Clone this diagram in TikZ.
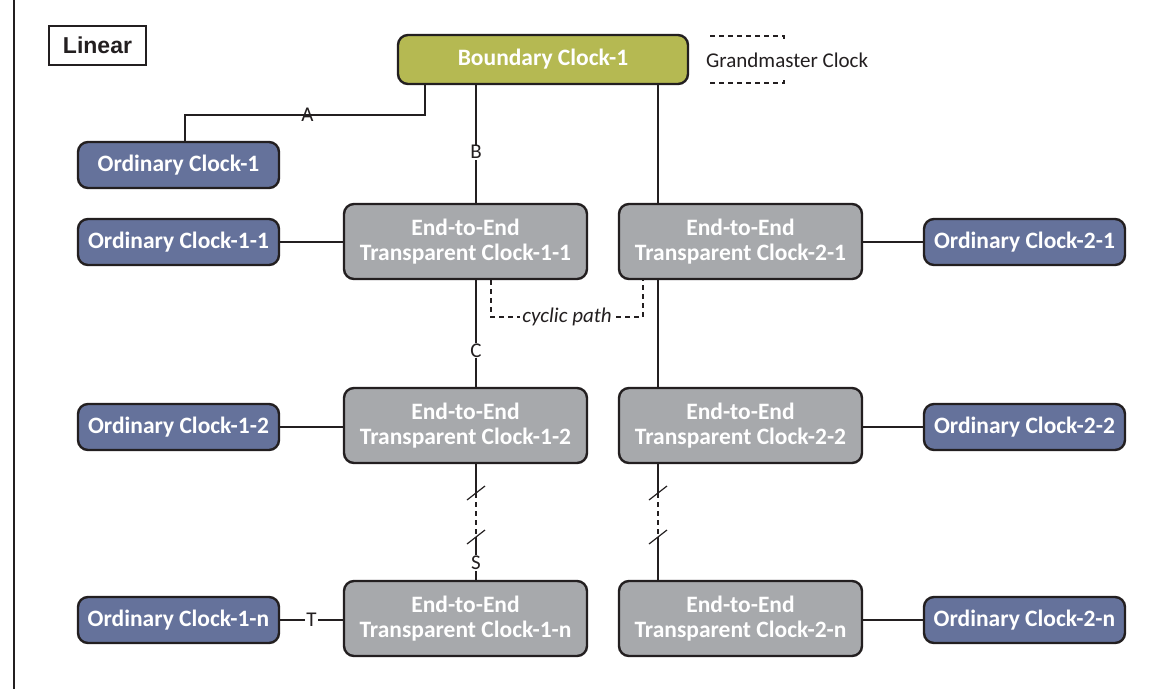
\documentclass[tikz,border=0pt]{standalone}
\usepackage{fontspec}
\usetikzlibrary{calc}
\setmainfont{Carlito}
\newfontfamily\arialfont{Liberation Sans}
\definecolor{ordc}{RGB}{101,114,155}
\definecolor{etec}{RGB}{167,169,172}
\definecolor{bndc}{RGB}{181,185,82}
\definecolor{bord}{RGB}{35,31,32}
\begin{document}
\begin{tikzpicture}[x=1pt,y=-1pt,
  box/.style={draw=bord, line width=2.4pt, rounded corners=10pt, inner sep=0pt,
    font=\bfseries\fontsize{23.5}{25}\selectfont, text=white, align=center},
  ord/.style={box, fill=ordc, minimum width=201pt, minimum height=46pt},
  ete/.style={box, fill=etec, minimum width=243pt, minimum height=75pt},
  bnd/.style={box, fill=bndc, minimum width=290pt, minimum height=49pt},
  conn/.style={line width=1.2pt, draw=bord},
  lbl/.style={fill=white, inner sep=1pt, text=bord, font=\fontsize{21}{21}\selectfont},
  lblA/.style={inner sep=0pt, text=bord, font=\fontsize{21}{21}\selectfont},
  dsh/.style={conn, dash pattern=on 5pt off 4pt},
  slash/.style={conn}
]
\useasboundingbox (0,0) rectangle (1171,689);
\fill[white] (0,0) rectangle (1171,689);
\draw[line width=2.2pt, bord] (14,0) -- (14,689);

% title
\node[draw=bord, line width=2pt, minimum width=97pt, minimum height=39pt, inner sep=0pt,
  font=\arialfont\bfseries\fontsize{23}{23}\selectfont, text=bord] (lin) at (97.5,45.5) {Linear};

% nodes
\node[bnd] (bc) at (543,59.5) {Boundary Clock-1};
\node[anchor=west, text=bord, font=\fontsize{21}{21}\selectfont, inner sep=0pt] (gm) at (706,60) {Grandmaster Clock};

\node[ord] (oc1) at (178.5,165) {Ordinary Clock-1};
\node[ord] (o11) at (178.5,242) {Ordinary Clock-1-1};
\node[ord] (o12) at (178.5,427) {Ordinary Clock-1-2};
\node[ord] (o1n) at (178.5,620) {Ordinary Clock-1-n};
\node[ord] (o21) at (1024.5,242) {Ordinary Clock-2-1};
\node[ord] (o22) at (1024.5,427) {Ordinary Clock-2-2};
\node[ord] (o2n) at (1024.5,620) {Ordinary Clock-2-n};

\node[ete] (e11) at (465.5,241.5) {End-to-End\\Transparent Clock-1-1};
\node[ete] (e12) at (465.5,425.5) {End-to-End\\Transparent Clock-1-2};
\node[ete] (e1n) at (465.5,618.5) {End-to-End\\Transparent Clock-1-n};
\node[ete] (e21) at (740.5,241.5) {End-to-End\\Transparent Clock-2-1};
\node[ete] (e22) at (740.5,425.5) {End-to-End\\Transparent Clock-2-2};
\node[ete] (e2n) at (740.5,618.5) {End-to-End\\Transparent Clock-2-n};

% helper coordinates
\coordinate (xa) at (425,0);
\coordinate (xb) at (185,0);
\coordinate (ya) at (0,115);
\coordinate (x1) at (476,0);
\coordinate (x2) at (658,0);
\coordinate (s1) at (476,493);
\coordinate (s2) at (476,537);
\coordinate (t1) at (658,493);
\coordinate (t2) at (658,537);
\coordinate (k1) at (491,317);
\coordinate (k2) at (643,317);

% grandmaster brackets
\draw[dsh] (710,36) -- (784,36) -- (784,42);
\draw[dsh] (710,83) -- (784,83) -- (784,78);

% connectors
\draw[conn] (bc.south -| xa) -- (xa |- ya) -- node[lblA, pos=0.49]{A} (xb |- ya) -- (oc1.north -| xb);
\draw[conn] (bc.south -| x1) -- node[lbl, pos=0.57]{B} (e11.north -| x1);
\draw[conn] (bc.south -| x2) -- (e21.north -| x2);

\draw[conn] (o11.east) -- (o11.east -| e11.west);
\draw[conn] (o12.east) -- (o12.east -| e12.west);
\draw[conn] (o1n.east) -- node[lbl]{T} (o1n.east -| e1n.west);
\draw[conn] (o21.west -| e21.east) -- (o21.west);
\draw[conn] (o22.west -| e22.east) -- (o22.west);
\draw[conn] (o2n.west -| e2n.east) -- (o2n.west);

\draw[conn] (e11.south -| x1) -- node[lbl, pos=0.66]{C} (e12.north -| x1);
\draw[conn] (e21.south -| x2) -- (e22.north -| x2);

\draw[dsh] (e11.south -| k1) -- (k1) -- node[fill=white, inner sep=2pt, text=bord, font=\itshape\fontsize{21}{21}\selectfont]{cyclic path} (k2) -- (e21.south -| k2);

\draw[conn] (e12.south -| x1) -- (s1);
\draw[dsh] (s1) -- (s2);
\draw[conn] (s2) -- node[lbl, pos=0.6]{S} (e1n.north -| x1);
\draw[conn] (e22.south -| x2) -- (t1);
\draw[dsh] (t1) -- (t2);
\draw[conn] (t2) -- (e2n.north -| x2);

\foreach \p in {s1,s2,t1,t2}
  \draw[slash] ($(\p)+(-9,7)$) -- ($(\p)+(9,-7)$);
\end{tikzpicture}
\end{document}
